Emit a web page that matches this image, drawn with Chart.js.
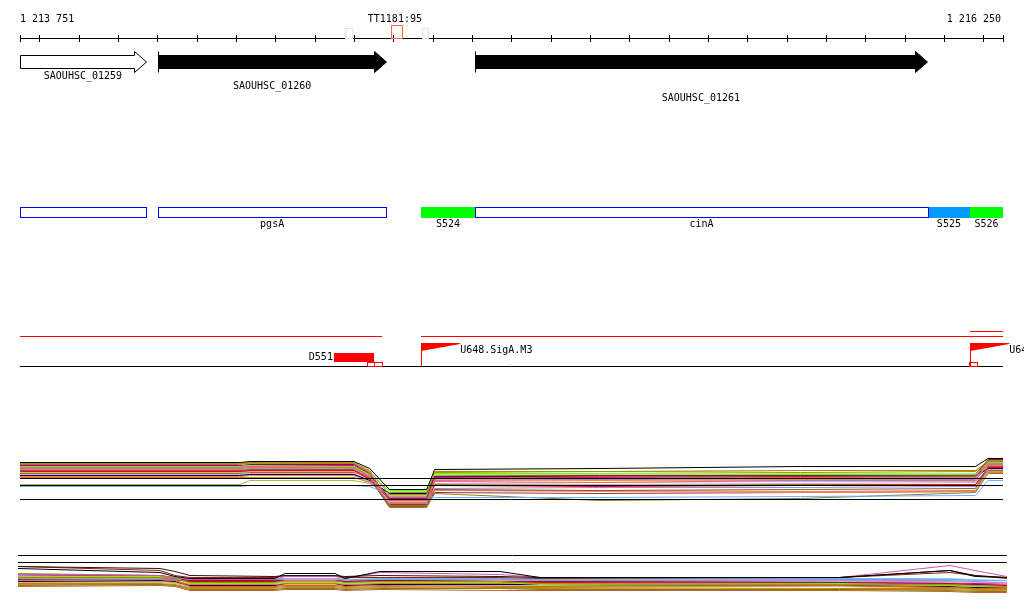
<!DOCTYPE html>
<html><head><meta charset="utf-8">
<script src="https://cdn.jsdelivr.net/npm/chart.js@4.4.1/dist/chart.umd.min.js"></script>
<style>html,body{margin:0;padding:0;background:#fff;overflow:hidden}canvas{display:block}</style>
</head><body>
<canvas id="c" width="1024" height="611"></canvas>
<script>
// ---------- region / ruler ----------
const regionStart = 1213751, regionEnd = 1216250;
const rulerTicks = [1213800,1213900,1214000,1214100,1214200,1214300,1214400,1214500,1214600,1214700,1214800,1214900,1215000,1215100,1215200,1215300,1215400,1215500,1215600,1215700,1215800,1215900,1216000,1216100,1216200];
const rulerLabels = ['1 213 751', '1 216 250'];
const probeLabel = 'TT1181:95';
const probeLabelPos = 1214704;
const probeStarts = [1214577, 1214694, 1214773];
const probeEnds   = [1214595, 1214722, 1214788];
const probeColors = ['#FFD9CC', '#FF6644', '#FFD9CC'];
const probeTall   = [false, true, false];

// ---------- genes ----------
const geneNames  = ['SAOUHSC_01259', 'SAOUHSC_01260', 'SAOUHSC_01261'];
const geneStarts = [1213751, 1214103, 1214908];
const geneEnds   = [1214071, 1214681, 1216056];
const geneFilled = [false, true, true];

// ---------- annotated features ----------
const featureNames  = ['', 'pgsA', 'S524', 'cinA', 'S525', 'S526'];
const featureStarts = [1213751, 1214103, 1214770, 1214908, 1216059, 1216166];
const featureEnds   = [1214071, 1214681, 1214908, 1216059, 1216166, 1216250];
const featureKinds  = ['gene', 'gene', 'segA', 'gene', 'segB', 'segA'];

// ---------- promoter / terminator track ----------
const tuStarts = [1213751, 1214770];
const tuEnds   = [1214671, 1216250];
const tuExtraStarts = [1216166];
const tuExtraEnds   = [1216250];
const termNames  = ['D551'];
const termStarts = [1214549];
const termEnds   = [1214651];
const siteStarts = [1214633, 1214651, 1216163];
const siteEnds   = [1214651, 1214671, 1216184];
const promoterNames = ['U648.SigA.M3', 'U64'];
const promoterPos   = [1214770, 1216166];
const promoterLen   = [100, 100];

// ---------- expression track A ----------
const xA = [1213751, 1214310, 1214335, 1214600, 1214640, 1214690, 1214785, 1214805, 1215225, 1215735, 1216180, 1216212, 1216250];
const refA = [21, 17.5, 10.5];
const colorsA = ['#000000','#999900','#D2691E','#66FF00','#CC66CC','#990066','#66B3FF','#FF6347','#A0522D','#9999CC','#FF0000','#000066','#D2B48C','#808000','#FF99CC','#FA8072','#B8860B','#CC0099','#7799DD','#CD853F','#99FF66','#993333','#B5B53D','#800040','#FF8C00','#AAAAAA','#87CEEB','#8B7D2B'];
const seriesA = [
 [29,29,29.5,29.5,26,15.5,15.5,25.5,26,27,27,31,31],
 [28.5,28.5,29,29,25,13,13,24,24.5,24,24.5,30,30],
 [28,28,29,28.5,24,10,10,21,22,21.5,22,29.5,29.5],
 [27,27,27.5,27,23,15,15,23.5,23.5,23,23,29,29],
 [26.5,26.5,27,27,22,8.5,8.5,20,20.5,20,20.5,28.5,28.5],
 [27.5,27.5,28,28,23.5,11,11,22,22.5,22.5,23,30.5,30.5],
 [17,17,17.5,17.5,17,13,13,11.5,11.5,12,12.5,20,20],
 [26,26,26.5,26.5,21.5,11.5,11.5,19.5,19,20,20,28,28],
 [25,25,25.5,25.5,21,7,7,15.5,15,15.5,16,27,27],
 [25.5,25.5,26,26,22,12,12,21,21,21.5,21.5,27.5,27.5],
 [24.5,24.5,25,25,20.5,10.5,10.5,17.5,17,17.5,18,26.5,26.5],
 [22.5,22.5,23,23,20,13.5,13.5,22,22,22.5,22,26,26],
 [24,24,24.5,24.5,21,12.5,12.5,20.5,20.5,21,21,27,27],
 [23.5,23.5,24,24,22,7.5,7.5,18,17.5,18,18,25,25],
 [23,23,23.5,23.5,20,9.5,9.5,18.5,18,18.5,19,25.5,25.5],
 [22,22,22.5,22.5,19,11.5,11.5,15,14.5,14,14.5,24.5,24.5],
 [21.5,21.5,21.5,21.5,19,14,14,24.5,24.5,25,25,29.5,29.5],
 [27,27,27.5,27.5,23,10.5,10.5,21.5,21.5,22,22.5,30,30],
 [24,24,24.5,24.5,20.5,12,12,16,16.5,16.5,17,25,25],
 [28.5,28.5,28.5,28.5,24.5,9,9,15,15,14.5,15,24,24],
 [26,26,26,26,22.5,14.5,14.5,23,23,23.5,23.5,28.5,28.5],
 [25,25,25,25,21.5,8,8,14,13.5,14,14.5,26.5,26.5],
 [18,18,20,20,18.5,12.5,12.5,22.5,22.5,23,23.5,27,27],
 [25.5,25.5,26.5,26.5,22.5,11,11,21.5,21,21.5,21.5,29,29],
 [26.5,26.5,27,27,23.5,10,10,20.5,20,20.5,21,28,28],
 [23,23,23,23,20.5,12,12,20.5,21,20.5,20.5,27.5,27.5],
 [22,22,22.5,22.5,19.5,13.5,13.5,18.5,19,19.5,19.5,25.5,25.5],
 [24.5,24.5,24.5,24.5,21.5,6.5,6.5,13.5,10,11,14,23.5,23.5]
];

// ---------- expression track B ----------
const xB = [1213746, 1214107, 1214145, 1214183, 1214399, 1214425, 1214552, 1214577, 1214666, 1214971, 1215073, 1215835, 1216115, 1216179, 1216260];
const refB = [22.5, 19];
const colorsB = ['#000000','#8B2500','#CC55BB','#999900','#D2691E','#66FF00','#990066','#66B3FF','#FF6347','#9999CC','#FF0000','#000066','#D2B48C','#808000','#FF99CC','#FA8072','#B8860B','#CC0099','#7799DD','#CD853F','#99FF66','#331111','#B5B53D','#800040','#FF8C00','#AAAAAA','#87CEEB','#C06030'];
const seriesB = [
 [16,14,12,11,11,13.5,13.5,11,14.5,14.5,11.5,11.5,15,12,11.5],
 [17,15,12.5,11.5,11.5,12.5,12.5,11.5,11.5,11.5,11,11.5,14,12.5,11],
 [13,12.5,11.5,10.5,10.5,12,12,11,14,13,11.5,11.5,17.5,15,12],
 [13.5,12.5,11,9,9,10,10,9,9.5,9.5,8.5,8,8,7.5,7],
 [11.5,11.5,10,7,7,7.5,7.5,7,7.5,7,7,7.5,6.5,6,6],
 [12,12,11.5,8.5,8.5,9,9,8.5,9,9,8,8.5,7.5,7,7],
 [13,12.5,11,10,10,10,10,9.5,10,9.5,9.5,9,8.5,8,7.5],
 [11,11,10.5,10.5,10.5,11,11,10.5,11,11,10.5,11,10.5,10,10],
 [10,10.5,10,8,8,8.5,8.5,8,8.5,8.5,8.5,8,7.5,7,6.5],
 [12.5,12,11.5,10.5,10.5,11,11,10.5,10.5,10.5,10,10,10,9.5,9],
 [10.5,11,10.5,9.5,9.5,10,10,9.5,9.5,9,9,8.5,8,8,7.5],
 [9.5,10,9.5,7.5,7.5,8.5,8.5,7.5,8,8,8,7.5,7,6.5,6.5],
 [9,9,8.5,7,7,8,8,7.5,8,7.5,7.5,7,7,6.5,6],
 [7.5,8,7.5,5.5,5.5,6,6,5.5,6,6,5.5,5.5,5,4.5,4.5],
 [11.5,11.5,11,10,10,10.5,10.5,10,10.5,10,10,9.5,9,9,8.5],
 [11,11,10.5,9,9,9.5,9.5,9,9.5,9,9,9,8.5,8,8],
 [8.5,8.5,8,6.5,6.5,7,7,6.5,7,6.5,6.5,6,6,5.5,5.5],
 [12.5,12.5,11.5,10.5,10.5,10.5,10.5,10,10.5,10.5,10,9.5,9,8.5,8.5],
 [10.5,10.5,10,10,10,10.5,10.5,10,10.5,10.5,10,10.5,10.5,10,10],
 [8,8,7.5,6,6,6.5,6.5,6,6.5,6,6,5.5,5.5,5,5],
 [10,10,9.5,8,8,8.5,8.5,8,8.5,8,8,7.5,7,6.5,6.5],
 [17,16,14.5,12.5,12,12.5,12.5,12,12.5,12,11.5,11.5,15,12.5,11.5],
 [9,9.5,9,7.5,7.5,8.5,8.5,7.5,8.5,8,7.5,7,6.5,6,6],
 [12,12,11,9.5,9.5,10,10,9.5,10,10,9.5,9,9,8.5,8.5],
 [9.5,9.5,9,7.5,7.5,8,8,7.5,8,7.5,7.5,7,6.5,6,5.5],
 [11.5,11.5,11,10,10,10.5,10.5,10,10.5,10,10,10,9.5,9,9],
 [11,11,11,10.5,10.5,10.5,10.5,10.5,10.5,10.5,10.5,11,11,10.5,10],
 [7,7.5,7,5,5,5.5,5.5,5,5.5,5,5,5,4.5,4,4]
];

// ---------- layout (pixel rows on the page axis) ----------
const ROW = {label: 19, ruler: 38, geneTop: 51, geneBodyTop: 55, geneBodyBot: 68, geneBot: 72,
  geneLabel: [76, 86, 98], featTop: 207, featBot: 217, featLabel: 224,
  tuLine: 336, tuExtra: 331, base: 366, termTop: 353, termBot: 362, flagTop: 343, flagBot: 351};
const FONT = '10px "DejaVu Sans Mono", "Liberation Mono", monospace';

function lineSet(xs, vs, color, axis, order) {
  return {type: 'line', data: xs.map((x, i) => ({x: x, y: vs[i]})), borderColor: color, borderWidth: 1,
    yAxisID: axis, pointRadius: 0, fill: false, tension: 0, clip: false, order: order};
}
const datasets = [];
seriesA.forEach((s, i) => datasets.push(lineSet(xA, s, colorsA[i], 'ya', i === 0 ? 0 : 10)));
refA.forEach(v => datasets.push(lineSet([regionStart, regionEnd], [v, v], '#000000', 'ya', 1)));
seriesB.forEach((s, i) => datasets.push(lineSet(xB, s, colorsB[i], 'yb', (i === 0 || i === 21) ? 0 : 10)));
refB.forEach(v => datasets.push(lineSet([xB[0], xB[xB.length - 1]], [v, v], '#000000', 'yb', 1)));

const tracksPlugin = {
  id: 'tracks',
  afterDatasetsDraw(chart) {
    const ctx = chart.ctx, sx = chart.scales.x, sy = chart.scales.y;
    const X = v => sx.getPixelForValue(v);
    const Y = v => sy.getPixelForValue(v);
    const cx = v => Math.round(X(v)) + 0.5;
    const cy = v => Math.round(Y(v)) + 0.5;
    ctx.save();
    ctx.font = FONT; ctx.textBaseline = 'middle'; ctx.lineWidth = 1;
    function hline(a, b, y, col) { ctx.strokeStyle = col; ctx.beginPath(); ctx.moveTo(Math.round(X(a)), cy(y)); ctx.lineTo(Math.round(X(b)), cy(y)); ctx.stroke(); }
    function rectS(a, b, t, bt, col) { ctx.strokeStyle = col; ctx.strokeRect(cx(a), cy(t), Math.round(X(b)) - Math.round(X(a)), Math.round(Y(bt)) - Math.round(Y(t))); }
    function text(s, x, y, align, col) { ctx.fillStyle = col || '#000'; ctx.textAlign = align; ctx.fillText(s, x, Y(y)); }

    // ruler
    hline(regionStart, regionEnd, ROW.ruler, '#000');
    ctx.strokeStyle = '#000';
    [regionStart].concat(rulerTicks, [regionEnd]).forEach(t => {
      ctx.beginPath(); ctx.moveTo(cx(t), Y(ROW.ruler) - 3); ctx.lineTo(cx(t), Y(ROW.ruler) + 4); ctx.stroke();
    });
    text(rulerLabels[0], X(regionStart), ROW.label, 'left');
    text(rulerLabels[1], X(regionEnd) - 2, ROW.label, 'right');
    text(probeLabel, X(probeLabelPos), ROW.label, 'center');
    probeStarts.forEach((s, i) => rectS(s, probeEnds[i], probeTall[i] ? 25 : 28, ROW.ruler, probeColors[i]));

    // genes
    geneNames.forEach((n, i) => {
      const x0 = Math.round(X(geneStarts[i])) + 0.5, x1 = Math.round(X(geneEnds[i])) + 0.5, hx = x1 - 12;
      ctx.beginPath();
      ctx.moveTo(x0, cy(ROW.geneBodyTop)); ctx.lineTo(hx, cy(ROW.geneBodyTop)); ctx.lineTo(hx, cy(ROW.geneTop));
      ctx.lineTo(x1, (Y(ROW.geneTop) + Y(ROW.geneBot)) / 2 + 0.5); ctx.lineTo(hx, cy(ROW.geneBot)); ctx.lineTo(hx, cy(ROW.geneBodyBot));
      ctx.lineTo(x0, cy(ROW.geneBodyBot)); ctx.closePath();
      ctx.fillStyle = geneFilled[i] ? '#000' : '#fff'; ctx.fill();
      ctx.strokeStyle = '#000'; ctx.stroke();
      if (geneFilled[i]) { ctx.beginPath(); ctx.moveTo(x0, cy(ROW.geneTop)); ctx.lineTo(x0, cy(ROW.geneBot)); ctx.stroke(); }
      text(n, (X(geneStarts[i]) + X(geneEnds[i])) / 2, ROW.geneLabel[i], 'center');
    });

    // features
    featureNames.forEach((n, i) => {
      const a = featureStarts[i], b = featureEnds[i], k = featureKinds[i];
      if (k === 'gene') {
        ctx.fillStyle = '#fff'; ctx.fillRect(X(a), Y(ROW.featTop), X(b) - X(a), Y(ROW.featBot) - Y(ROW.featTop));
        rectS(a, b, ROW.featTop, ROW.featBot, '#0000FF');
      } else {
        ctx.fillStyle = k === 'segA' ? '#00FF00' : '#0099FF';
        ctx.fillRect(Math.round(X(a)), Y(ROW.featTop), Math.round(X(b)) - Math.round(X(a)), Y(ROW.featBot) - Y(ROW.featTop) + 1);
      }
      if (n) text(n, (X(a) + X(b)) / 2, ROW.featLabel, 'center');
    });
    featureNames.forEach((n, i) => { if (featureKinds[i] === 'gene') rectS(featureStarts[i], featureEnds[i], ROW.featTop, ROW.featBot, '#0000FF'); });

    // transcription units / terminators / promoters
    tuStarts.forEach((s, i) => hline(s, tuEnds[i], ROW.tuLine, '#FF0000'));
    tuExtraStarts.forEach((s, i) => hline(s, tuExtraEnds[i], ROW.tuExtra, '#FF0000'));
    hline(regionStart, regionEnd, ROW.base, '#000');
    termNames.forEach((n, i) => {
      ctx.fillStyle = '#FF0000';
      ctx.fillRect(Math.round(X(termStarts[i])), Y(ROW.termTop), Math.round(X(termEnds[i])) - Math.round(X(termStarts[i])), Y(ROW.termBot) - Y(ROW.termTop));
      text(n, X(termStarts[i]) - 1, (ROW.termTop + ROW.termBot) / 2, 'right');
    });
    siteStarts.forEach((s, i) => rectS(s, siteEnds[i], ROW.termBot, ROW.base, '#FF0000'));
    promoterNames.forEach((n, i) => {
      const x0 = cx(promoterPos[i]), x1 = X(promoterPos[i] + promoterLen[i]);
      ctx.strokeStyle = '#FF0000'; ctx.beginPath(); ctx.moveTo(x0, cy(ROW.flagTop)); ctx.lineTo(x0, Y(ROW.base)); ctx.stroke();
      ctx.fillStyle = '#FF0000'; ctx.beginPath();
      ctx.moveTo(x0 - 0.5, Y(ROW.flagTop)); ctx.lineTo(x1, Y(ROW.flagTop)); ctx.lineTo(x1, Y(ROW.flagTop) + 1);
      ctx.lineTo(x0 - 0.5, Y(ROW.flagBot)); ctx.closePath(); ctx.fill();
      text(n, x1 + 0, ROW.flagTop + 7, 'left');
    });
    ctx.restore();
  }
};

new Chart(document.getElementById('c'), {
  type: 'line',
  data: {datasets: datasets},
  options: {
    responsive: false, animation: false, devicePixelRatio: 1,
    layout: {padding: {left: 20, right: 21, top: 0, bottom: 0}},
    plugins: {legend: {display: false}, tooltip: {enabled: false}, title: {display: false}},
    events: [],
    scales: {
      x: {type: 'linear', min: regionStart, max: regionEnd, display: false},
      y: {type: 'linear', min: 0, max: 611, reverse: true, display: false},
      ya: {type: 'linear', min: -45.25, max: 260.25, display: false},
      yb: {type: 'linear', min: -5.25, max: 300.25, display: false}
    }
  },
  plugins: [tracksPlugin]
});
</script>
</body></html>
